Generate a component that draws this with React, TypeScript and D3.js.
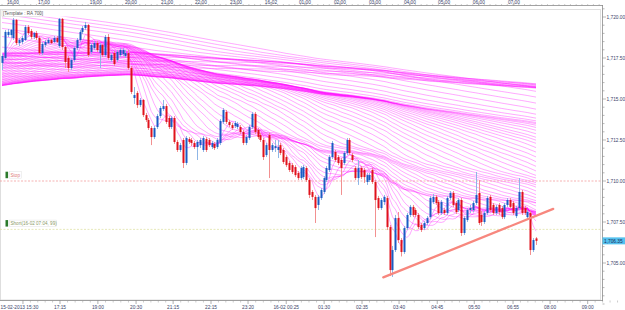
import React, { useEffect, useRef } from 'react';
import * as d3 from 'd3';

// 5 minute bars: [open, high, low, close]
const candles: number[][] = [
  [1717.20, 1717.74, 1716.77, 1717.62], [1717.50, 1719.21, 1717.38, 1719.09], [1718.90, 1719.27, 1718.78, 1719.09],
  [1718.90, 1719.27, 1718.72, 1719.21], [1718.72, 1719.94, 1718.60, 1719.82], [1719.82, 1719.88, 1718.29, 1718.41],
  [1718.41, 1718.72, 1718.23, 1718.60], [1718.48, 1718.84, 1718.35, 1718.72], [1718.60, 1719.51, 1718.54, 1719.39],
  [1719.39, 1719.51, 1718.90, 1719.02], [1719.15, 1719.27, 1718.66, 1718.78], [1718.78, 1719.09, 1718.66, 1719.02],
  [1719.02, 1719.15, 1718.60, 1718.72], [1718.72, 1718.84, 1717.68, 1717.80], [1717.80, 1718.48, 1717.68, 1718.35],
  [1718.29, 1718.60, 1718.17, 1718.48], [1718.41, 1718.72, 1718.35, 1718.60], [1718.60, 1718.66, 1718.35, 1718.41],
  [1718.48, 1718.84, 1718.41, 1718.72], [1718.72, 1718.84, 1718.41, 1718.48], [1718.23, 1719.94, 1718.11, 1719.88],
  [1719.88, 1719.94, 1717.99, 1718.17], [1718.17, 1718.23, 1716.89, 1717.26], [1717.50, 1717.62, 1716.65, 1716.89],
  [1716.89, 1717.50, 1716.77, 1717.38], [1717.38, 1718.23, 1717.26, 1718.11], [1718.11, 1718.72, 1717.99, 1718.60],
  [1718.60, 1719.21, 1718.48, 1719.09], [1719.09, 1719.45, 1718.96, 1719.33], [1719.33, 1719.70, 1719.21, 1719.51],
  [1719.51, 1719.57, 1717.56, 1717.68], [1717.87, 1718.41, 1717.74, 1718.29], [1718.11, 1718.54, 1717.99, 1718.41],
  [1718.41, 1718.54, 1717.87, 1717.99], [1717.80, 1718.41, 1716.89, 1718.29], [1718.29, 1718.35, 1717.56, 1717.68],
  [1717.68, 1718.90, 1717.56, 1718.78], [1718.78, 1718.96, 1717.38, 1717.50], [1717.38, 1717.80, 1717.26, 1717.68],
  [1717.80, 1717.93, 1717.01, 1717.13], [1717.38, 1717.99, 1717.26, 1717.87], [1717.68, 1718.11, 1717.56, 1717.99],
  [1717.74, 1718.11, 1717.62, 1717.99], [1717.62, 1717.99, 1717.50, 1717.80], [1717.80, 1717.99, 1716.77, 1716.89],
  [1716.89, 1717.01, 1715.30, 1715.43], [1715.06, 1715.73, 1714.70, 1715.24], [1715.37, 1715.49, 1714.45, 1714.63],
  [1714.63, 1715.06, 1714.51, 1714.94], [1714.94, 1715.00, 1713.90, 1714.02], [1714.02, 1714.15, 1713.60, 1713.72],
  [1713.72, 1713.84, 1713.11, 1713.23], [1713.23, 1713.35, 1712.19, 1712.68], [1712.68, 1713.35, 1712.56, 1713.23],
  [1713.29, 1714.09, 1713.17, 1713.96], [1713.96, 1714.57, 1713.84, 1714.45], [1714.39, 1714.94, 1714.27, 1714.57],
  [1714.57, 1714.70, 1713.48, 1713.60], [1713.84, 1713.96, 1713.17, 1713.29], [1713.29, 1713.96, 1713.17, 1713.84],
  [1713.84, 1713.96, 1712.26, 1712.38], [1712.38, 1712.50, 1711.77, 1711.89], [1711.89, 1712.32, 1711.77, 1712.19],
  [1712.50, 1712.62, 1710.79, 1711.10], [1711.10, 1712.74, 1710.97, 1712.62], [1712.56, 1712.68, 1712.26, 1712.38],
  [1712.50, 1712.62, 1712.13, 1712.32], [1712.32, 1712.44, 1711.95, 1712.07], [1712.07, 1712.50, 1711.28, 1712.38],
  [1712.19, 1712.62, 1712.01, 1712.50], [1711.89, 1712.74, 1711.77, 1712.62], [1712.56, 1712.68, 1711.77, 1711.89],
  [1712.50, 1712.62, 1712.07, 1712.19], [1712.07, 1712.44, 1711.95, 1712.32], [1712.26, 1712.38, 1711.89, 1712.01],
  [1712.07, 1712.62, 1711.95, 1712.50], [1712.32, 1713.78, 1712.19, 1713.66], [1713.60, 1714.45, 1713.48, 1714.33],
  [1714.21, 1714.33, 1713.48, 1713.60], [1713.60, 1713.72, 1713.29, 1713.41], [1713.41, 1713.54, 1713.11, 1713.23],
  [1713.35, 1713.66, 1713.23, 1713.54], [1713.29, 1713.60, 1713.17, 1713.48], [1713.29, 1713.41, 1712.87, 1712.99],
  [1712.99, 1713.11, 1712.19, 1712.32], [1712.32, 1712.80, 1712.19, 1712.68], [1712.62, 1713.41, 1712.50, 1713.29],
  [1713.29, 1714.21, 1713.17, 1714.09], [1714.09, 1714.21, 1712.87, 1712.99], [1713.11, 1713.23, 1712.56, 1712.68],
  [1712.80, 1712.93, 1712.38, 1712.50], [1712.50, 1712.62, 1711.28, 1711.46], [1711.58, 1712.32, 1711.46, 1712.19],
  [1712.80, 1712.93, 1710.18, 1711.89], [1711.89, 1712.32, 1711.77, 1712.19], [1712.01, 1712.50, 1711.77, 1712.13],
  [1711.89, 1712.50, 1711.40, 1712.07], [1712.19, 1712.32, 1711.58, 1711.71], [1711.89, 1712.01, 1711.04, 1711.16],
  [1711.46, 1711.58, 1710.85, 1710.97], [1711.10, 1711.22, 1710.55, 1710.67], [1710.97, 1711.10, 1710.43, 1710.55],
  [1710.85, 1710.97, 1710.24, 1710.36], [1710.49, 1710.61, 1710.06, 1710.18], [1710.18, 1710.91, 1710.06, 1710.79],
  [1710.24, 1710.97, 1710.12, 1710.85], [1710.79, 1710.91, 1709.94, 1710.06], [1710.06, 1710.18, 1708.96, 1709.15],
  [1709.33, 1709.45, 1708.84, 1709.03], [1709.03, 1709.15, 1707.44, 1708.35], [1708.54, 1709.15, 1708.23, 1709.03],
  [1708.96, 1709.57, 1708.84, 1709.45], [1709.33, 1710.30, 1709.21, 1710.18], [1710.06, 1710.91, 1709.94, 1710.79],
  [1710.67, 1711.58, 1710.55, 1711.46], [1711.46, 1712.44, 1711.34, 1712.32], [1711.77, 1711.89, 1711.16, 1711.28],
  [1711.46, 1711.58, 1710.97, 1711.10], [1711.28, 1711.40, 1709.15, 1710.79], [1711.10, 1711.83, 1710.97, 1711.71],
  [1711.71, 1712.62, 1711.58, 1712.50], [1712.50, 1712.62, 1711.58, 1711.71], [1711.58, 1711.71, 1711.16, 1711.28],
  [1710.79, 1710.91, 1710.06, 1710.18], [1710.18, 1711.28, 1709.76, 1710.79], [1710.79, 1710.91, 1710.12, 1710.24],
  [1710.67, 1710.79, 1709.88, 1710.24], [1709.94, 1710.49, 1709.76, 1710.36], [1710.06, 1710.49, 1709.94, 1710.36],
  [1710.67, 1710.79, 1709.82, 1709.94], [1709.94, 1710.06, 1706.58, 1708.84], [1708.96, 1709.09, 1708.23, 1708.35],
  [1708.35, 1708.96, 1708.23, 1708.84], [1708.72, 1709.15, 1708.54, 1709.03], [1708.96, 1709.09, 1707.01, 1707.19],
  [1707.19, 1707.32, 1704.21, 1704.57], [1704.57, 1706.04, 1704.15, 1705.79], [1705.79, 1707.93, 1705.67, 1707.74],
  [1707.74, 1708.11, 1706.22, 1706.40], [1706.40, 1706.52, 1705.40, 1705.67], [1705.67, 1707.26, 1705.55, 1707.13],
  [1707.13, 1708.05, 1707.01, 1707.93], [1707.93, 1708.54, 1707.80, 1708.42], [1708.42, 1708.54, 1707.80, 1707.93],
  [1708.23, 1708.35, 1707.80, 1707.93], [1707.93, 1708.05, 1707.07, 1707.19], [1707.32, 1707.44, 1706.89, 1707.01],
  [1707.13, 1707.56, 1707.01, 1707.44], [1707.44, 1707.86, 1707.32, 1707.74], [1707.80, 1709.09, 1707.68, 1708.96],
  [1708.72, 1709.21, 1708.60, 1709.03], [1709.03, 1709.15, 1708.54, 1708.66], [1708.72, 1708.84, 1707.93, 1708.05],
  [1708.05, 1708.84, 1707.93, 1708.72], [1708.23, 1708.35, 1707.93, 1708.05], [1708.05, 1709.09, 1707.93, 1708.96],
  [1708.96, 1709.39, 1708.84, 1709.27], [1709.27, 1709.39, 1708.42, 1708.54], [1708.66, 1708.78, 1707.99, 1708.11],
  [1708.23, 1708.96, 1708.11, 1708.84], [1708.84, 1708.96, 1706.65, 1706.83], [1706.83, 1707.86, 1706.71, 1707.74],
  [1707.62, 1708.35, 1707.50, 1708.23], [1708.23, 1708.54, 1708.05, 1708.35], [1708.23, 1708.78, 1708.11, 1708.66],
  [1708.66, 1710.55, 1708.54, 1709.15], [1709.27, 1710.06, 1707.32, 1707.44], [1707.93, 1708.17, 1707.26, 1707.50],
  [1707.50, 1708.17, 1707.38, 1708.05], [1708.05, 1709.09, 1707.93, 1708.96], [1709.03, 1709.15, 1708.11, 1708.23],
  [1708.54, 1708.66, 1707.93, 1708.05], [1708.05, 1708.54, 1707.93, 1708.42], [1708.54, 1708.66, 1707.93, 1708.11],
  [1708.35, 1708.48, 1707.68, 1707.80], [1707.80, 1708.66, 1707.68, 1708.54], [1708.54, 1708.96, 1708.42, 1708.84],
  [1708.84, 1708.96, 1708.29, 1708.42], [1708.66, 1708.78, 1707.93, 1708.05], [1707.86, 1708.48, 1707.74, 1708.35],
  [1708.35, 1710.18, 1708.23, 1709.33], [1709.33, 1709.45, 1707.93, 1708.05], [1708.35, 1708.48, 1707.93, 1708.05],
  [1707.80, 1708.23, 1707.62, 1708.11], [1708.05, 1708.17, 1705.49, 1705.79], [1705.79, 1706.52, 1705.67, 1706.40],
  [1706.50, 1706.58, 1706.10, 1706.35],
];

// average close of each 10-bar block before the first visible bar, oldest first
const priorBlocks = [
  1736.0, 1735.8, 1735.5, 1735.2, 1735.0, 1735.0, 1734.8, 1734.8, 1734.6, 1734.5,
  1730.0, 1726.0, 1725.5, 1725.2, 1725.0, 1724.8, 1724.6, 1724.5, 1724.4, 1714.6,
  1714.4, 1714.2, 1714.1, 1714.0, 1713.9, 1713.9, 1714.0, 1714.1, 1714.3, 1714.6,
  1716.1, 1716.4, 1716.7, 1717.0, 1717.2, 1717.4, 1717.5, 1717.5, 1717.4, 1717.2,
  1720.9, 1720.7, 1720.5, 1720.4, 1720.3, 1720.2, 1720.1, 1720.0, 1719.9, 1719.8,
  1719.5, 1719.0, 1718.5, 1718.0, 1717.5, 1717.0, 1716.5, 1716.0, 1715.5, 1715.0,
  1714.6, 1714.5, 1714.8, 1715.2, 1715.6, 1716.0, 1716.5, 1717.0, 1717.3, 1717.6,
];
const BLOCK_BARS = 10;

// rainbow of simple moving averages (bars)
const maPeriods = [
  5, 8, 11, 14, 17, 20, 24, 28, 32, 36, 40, 45, 50, 55, 60, 65, 70, 75, 80, 86, 92, 98,
  104, 110, 116, 122, 128, 134, 140, 146, 152, 158, 165, 172, 179, 186, 193, 200,
  210, 222, 235, 250, 266, 284, 304, 326, 350, 376, 404, 434,
  465, 500, 535, 570, 600, 625, 645, 660, 672, 682, 691, 700,
];

const priceTicks = [1720, 1717.5, 1715, 1712.5, 1710, 1707.5, 1705];
const topTimeLabels = ['16:00', '17:00', '19:00', '20:00', '21:00', '22:00', '23:00', '16-02', '01:00', '02:00', '03:00', '04:00', '05:00', '06:00', '07:00'];
const topTimeBars = [3.8, 14.6, 32.7, 44.9, 57.5, 69.3, 81.5, 93.7, 105.5, 117.7, 129.9, 142.1, 154, 166.1, 178.3];
const bottomTimeLabels = ['15-02-2013 15:30', '17:15', '19:00', '20:30', '21:15', '22:15', '23:20', '16-02 00:25', '01:30', '02:35', '03:40', '04:45', '05:50', '06:55', '08:00', '09:00'];
const bottomTimeBars = [7.3, 20.2, 33.4, 46.7, 59.6, 72.8, 85.7, 99, 112.2, 125.4, 138.3, 151.6, 164.5, 178, 190.9, 204];

const stopPrice = 1710.0;
const shortPrice = 1707.05;
const lastPrice = 1706.35;
const trendBars = [132.8, 192];
const trendPrices = [1704.12, 1708.3];

const W = 625;
const H = 310;

const App = () => {
  const ref = useRef<SVGSVGElement | null>(null);

  useEffect(() => {
    const svg = d3.select(ref.current);
    svg.selectAll('*').remove();

    const x = d3.scaleLinear().domain([0, candles.length - 1]).range([2, 536]);
    const y = d3.scaleLinear().domain([1705, 1720]).range([263, 17]);
    const font = '"Liberation Sans", Arial, sans-serif';

    svg.append('rect').attr('width', W).attr('height', H).attr('fill', '#fff');

    const defs = svg.append('defs');
    defs.append('clipPath').attr('id', 'plotClip')
      .append('rect').attr('x', 0).attr('y', 16.5).attr('width', 600).attr('height', 283.5);

    // inner frame
    svg.append('rect').attr('x', 0.5).attr('y', 9.5).attr('width', 600).attr('height', 290.5)
      .attr('fill', 'none').attr('stroke', '#d6d6d6').attr('stroke-width', 0.8);

    // moving average rainbow
    const closes = candles.map((c) => c[3]);
    const priorBars = priorBlocks.length * BLOCK_BARS;
    const barClose = (b: number) => (b >= 0 ? closes[b] : priorBlocks[Math.floor((b + priorBars) / BLOCK_BARS)]);
    const cum: number[] = [0];
    for (let b = -priorBars; b < closes.length; b++) cum.push(cum[cum.length - 1] + barClose(b));
    const maSeries = maPeriods.map((n) =>
      closes.map((_, t) => (cum[t + priorBars + 1] - cum[t + priorBars + 1 - n]) / n));

    const line = d3.line<number>().x((_, i) => x(i)).y((v) => y(v));
    const ribbon = svg.append('g').attr('clip-path', 'url(#plotClip)');
    ribbon.selectAll('path').data(maSeries).enter().append('path')
      .attr('d', (d) => line(d))
      .attr('fill', 'none')
      .attr('stroke', '#ff00ff')
      .attr('stroke-opacity', 0.45)
      .attr('stroke-width', 0.75);

    // horizontal order lines
    svg.append('line').attr('x1', 0).attr('x2', 602).attr('y1', y(stopPrice)).attr('y2', y(stopPrice))
      .attr('stroke', '#f2a0a0').attr('stroke-width', 0.8).attr('stroke-dasharray', '2,1.5');
    svg.append('line').attr('x1', 0).attr('x2', 602).attr('y1', y(shortPrice)).attr('y2', y(shortPrice))
      .attr('stroke', '#dfe2a8').attr('stroke-width', 0.8).attr('stroke-dasharray', '2,1.5');

    // candles
    const g = svg.append('g').attr('clip-path', 'url(#plotClip)');
    candles.forEach((c, i) => {
      const [o, h, l, cl] = c;
      const up = cl >= o;
      const cx = Math.round(x(i));
      g.append('line')
        .attr('x1', cx + 0.5).attr('x2', cx + 0.5)
        .attr('y1', y(h)).attr('y2', y(l))
        .attr('stroke', up ? '#8fb6e6' : '#f29090')
        .attr('stroke-width', 1);
      const top = y(Math.max(o, cl));
      const bh = Math.max(1, Math.abs(y(o) - y(cl)));
      g.append('rect')
        .attr('x', cx - 0.5).attr('y', top).attr('width', 2).attr('height', bh)
        .attr('fill', up ? '#1a5cc4' : '#e0121c');
    });

    // trend line
    svg.append('line')
      .attr('x1', x(trendBars[0])).attr('y1', y(trendPrices[0]))
      .attr('x2', x(trendBars[1])).attr('y2', y(trendPrices[1]))
      .attr('stroke', '#f7877e').attr('stroke-width', 2.3).attr('stroke-linecap', 'round');

    // right price axis
    svg.append('line').attr('x1', 602.5).attr('x2', 602.5).attr('y1', 5).attr('y2', 301)
      .attr('stroke', '#8a8a8a').attr('stroke-width', 0.8);
    d3.range(1702.5, 1720.51, 0.5).forEach((p) => {
      const major = priceTicks.includes(p);
      svg.append('line').attr('x1', 602.5).attr('x2', major ? 606 : 604.5)
        .attr('y1', y(p)).attr('y2', y(p)).attr('stroke', '#8a8a8a').attr('stroke-width', 0.6);
    });
    const fmt = d3.format(',.2f');
    priceTicks.forEach((p) => {
      svg.append('text').attr('x', 606.5).attr('y', y(p) + 1.7)
        .attr('font-family', font).attr('font-size', 4.8).attr('fill', '#3b3f6b')
        .text(fmt(p));
    });
    svg.append('rect').attr('x', 602.5).attr('y', y(lastPrice) - 3.5).attr('width', 22.5).attr('height', 7)
      .attr('fill', '#55c1ee');
    svg.append('text').attr('x', 604).attr('y', y(lastPrice) + 1.7)
      .attr('font-family', font).attr('font-size', 4.8).attr('fill', '#1c2a5a')
      .text(fmt(lastPrice));

    // top time axis
    svg.append('line').attr('x1', 0).attr('x2', 603).attr('y1', 5.5).attr('y2', 5.5)
      .attr('stroke', '#8a8a8a').attr('stroke-width', 0.8);
    d3.range(0, 209, 2).forEach((b) => {
      svg.append('line').attr('x1', x(b)).attr('x2', x(b)).attr('y1', 5.5).attr('y2', 4)
        .attr('stroke', '#9a9a9a').attr('stroke-width', 0.5);
    });
    topTimeBars.forEach((b, i) => {
      svg.append('line').attr('x1', x(b)).attr('x2', x(b)).attr('y1', 5.5).attr('y2', 2.5)
        .attr('stroke', '#7a7a7a').attr('stroke-width', 0.6);
      svg.append('text').attr('x', x(b)).attr('y', 4).attr('text-anchor', 'middle')
        .attr('font-family', font).attr('font-size', 4.8).attr('fill', '#3b3f6b')
        .text(topTimeLabels[i]);
    });

    // bottom time axis
    svg.append('line').attr('x1', 0).attr('x2', 603).attr('y1', 300.5).attr('y2', 300.5)
      .attr('stroke', '#8a8a8a').attr('stroke-width', 0.8);
    bottomTimeBars.forEach((b, i) => {
      const next = bottomTimeBars[i + 1] ?? b + 13;
      d3.range(1, 5).forEach((k) => {
        const mb = b + ((next - b) * k) / 5;
        svg.append('line').attr('x1', x(mb)).attr('x2', x(mb)).attr('y1', 300.5).attr('y2', 302.5)
          .attr('stroke', '#9a9a9a').attr('stroke-width', 0.5);
      });
      svg.append('line').attr('x1', x(b)).attr('x2', x(b)).attr('y1', 300.5).attr('y2', 304)
        .attr('stroke', '#7a7a7a').attr('stroke-width', 0.6);
      svg.append('text').attr('x', i === 0 ? 0.5 : x(b)).attr('y', 309.3)
        .attr('text-anchor', i === 0 ? 'start' : 'middle')
        .attr('font-family', font).attr('font-size', 4.8).attr('fill', '#3b3f6b')
        .text(bottomTimeLabels[i]);
    });

    // labels
    svg.append('rect').attr('x', 2).attr('y', 10).attr('width', 38).attr('height', 6.5)
      .attr('fill', '#fff').attr('stroke', '#cfcfcf').attr('stroke-width', 0.5);
    svg.append('text').attr('x', 3).attr('y', 15).attr('font-family', font).attr('font-size', 4.6)
      .attr('fill', '#555').text('[Template : RA 700]');

    const tag = (py: number, label: string, color: string, w: number) => {
      svg.append('rect').attr('x', 5.5).attr('y', py - 3.3).attr('width', 2.6).attr('height', 6.5).attr('fill', '#2b7a2b');
      svg.append('rect').attr('x', 9.5).attr('y', py - 3.3).attr('width', w).attr('height', 6.5)
        .attr('fill', '#fff').attr('stroke', '#e2e2e2').attr('stroke-width', 0.5);
      svg.append('text').attr('x', 10.5).attr('y', py + 1.6).attr('font-family', font).attr('font-size', 4.6)
        .attr('fill', color).text(label);
    };
    tag(y(stopPrice) - 6, 'Stop', '#e07a7a', 12);
    tag(y(shortPrice) - 6, 'Short(16-02 07:04, 99)', '#8a9868', 47);
  }, []);

  return (
    <svg ref={ref} width={W} height={H} style={{ position: 'absolute', left: 0, top: 0 }} />
  );
};

export default App;
